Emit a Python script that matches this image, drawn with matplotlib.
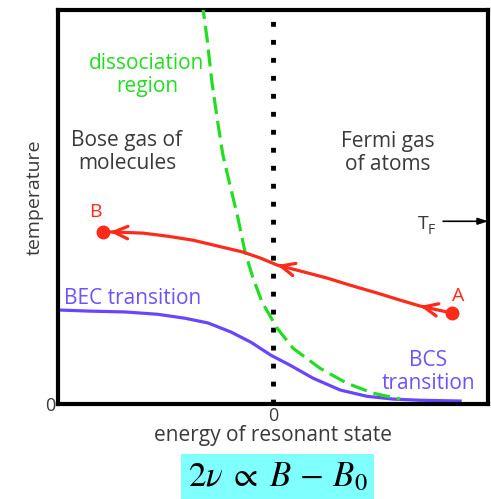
import numpy as np
import matplotlib.pyplot as plt

plt.rcParams['font.family'] = ['Open Sans', 'DejaVu Sans']
plt.rcParams['mathtext.fontset'] = 'stix'

# curves in (energy, temperature) units: energy -1..1, temperature 0..1
bec_x = [-1.000, -0.847, -0.688, -0.535, -0.409, -0.302, -0.195, -0.102, -0.009,
         0.079, 0.186, 0.312, 0.437, 0.558, 0.684, 0.870]
bec_y = [0.239, 0.236, 0.234, 0.228, 0.218, 0.206, 0.183, 0.157, 0.124,
         0.099, 0.066, 0.036, 0.020, 0.013, 0.010, 0.008]

diss_x = [-0.330, -0.326, -0.307, -0.284, -0.260, -0.233, -0.200, -0.163, -0.130,
          -0.093, -0.051, 0.019, 0.093, 0.219, 0.344, 0.465, 0.591]
diss_y = [1.02, 1.005, 0.929, 0.817, 0.726, 0.632, 0.556, 0.472, 0.386,
          0.320, 0.259, 0.193, 0.142, 0.091, 0.053, 0.028, 0.013]

# path from A to B
path_x = [0.833, 0.684, 0.591, 0.484, 0.358, 0.251, 0.126, 0.019, -0.060, -0.140,
          -0.256, -0.372, -0.488, -0.605, -0.758, -0.790]
path_y = [0.231, 0.249, 0.264, 0.282, 0.302, 0.320, 0.338, 0.353, 0.371, 0.386,
          0.401, 0.416, 0.426, 0.434, 0.437, 0.437]
arrow_idx = [1, 7, 14]

t_fermi = 0.464

c_red = '#ff2a1a'
c_green = '#22dd22'
c_blue = '#6a45ff'
c_label = '#7050ff'
c_text = '#3a3a3a'
fs = 15

fig = plt.figure(figsize=(4.91, 4.99), dpi=100)
ax = fig.add_axes([0.118, 0.190, 0.876, 0.790])
ax.set_xlim(-1, 1)
ax.set_ylim(0, 1)

ax.axvline(0, color='k', lw=3.5, linestyle=(0, (1, 2.7)), dash_capstyle='butt', zorder=1)

ax.plot(bec_x, bec_y, color=c_blue, lw=2.3, zorder=2)
ax.plot(diss_x, diss_y, color=c_green, lw=2.3, linestyle=(0, (5.3, 2.2)), zorder=3)
ax.plot(path_x, path_y, color=c_red, lw=2.3, zorder=4)
ax.plot([path_x[0], path_x[-1]], [path_y[0], path_y[-1]], 'o', color=c_red, ms=9, zorder=5)

for i in arrow_idx:
    dx = path_x[i] - path_x[i - 1]
    dy = path_y[i] - path_y[i - 1]
    n = np.hypot(dx, dy)
    ax.annotate('', xy=(path_x[i], path_y[i]),
                xytext=(path_x[i] - 0.02 * dx / n, path_y[i] - 0.02 * dy / n),
                arrowprops=dict(arrowstyle='->,head_length=1.0,head_width=0.45',
                                color=c_red, lw=2.3, shrinkA=0, shrinkB=0),
                zorder=5)

ax.text(-0.586, 0.835, 'dissociation\nregion', color=c_green, fontsize=fs,
        ha='center', va='center', linespacing=1.15)
ax.text(-0.679, 0.640, 'Bose gas of\nmolecules', color=c_text, fontsize=fs,
        ha='center', va='center', linespacing=1.15)
ax.text(0.535, 0.637, 'Fermi gas\nof atoms', color=c_text, fontsize=fs,
        ha='center', va='center', linespacing=1.15)
ax.text(-0.828, 0.487, 'B', color=c_red, fontsize=fs - 1, ha='center', va='center')
ax.text(0.860, 0.274, 'A', color=c_red, fontsize=fs - 1, ha='center', va='center')
ax.text(-0.972, 0.269, 'BEC transition', color=c_label, fontsize=fs,
        ha='left', va='center')
ax.text(0.721, 0.081, 'BCS\ntransition', color=c_label, fontsize=fs,
        ha='center', va='center', linespacing=1.15)
ax.text(0.700, t_fermi - 0.006, 'T', color=c_text, fontsize=fs - 1, ha='center', va='center')
ax.text(0.738, t_fermi - 0.024, 'F', color=c_text, fontsize=10, ha='center', va='center')
ax.annotate('', xy=(1.0, t_fermi), xytext=(0.791, t_fermi),
            arrowprops=dict(arrowstyle='-|>,head_length=0.6,head_width=0.2',
                            color='k', lw=1.2, shrinkA=0, shrinkB=0))

ax.set_xticks([0])
ax.set_xticklabels(['0'])
ax.set_yticks([0])
ax.set_yticklabels(['0'])
ax.tick_params(length=0, labelsize=13, labelcolor=c_text, pad=2)
ax.set_xlabel('energy of resonant state', fontsize=fs, color=c_text, labelpad=0)
ax.text(-0.053, 0.525, 'temperature', transform=ax.transAxes, rotation=90,
        fontsize=14, color=c_text, ha='center', va='center')
for s in ax.spines.values():
    s.set_linewidth(3)
    s.set_color('k')

fig.text(0.565, 0.043, r'$2\nu\;\propto\;B\,-\,B_0$', fontsize=25, ha='center', va='center',
         bbox=dict(boxstyle='square,pad=0.2', fc='#80ffff', ec='none'))

fig.savefig('out.png', dpi=100)
